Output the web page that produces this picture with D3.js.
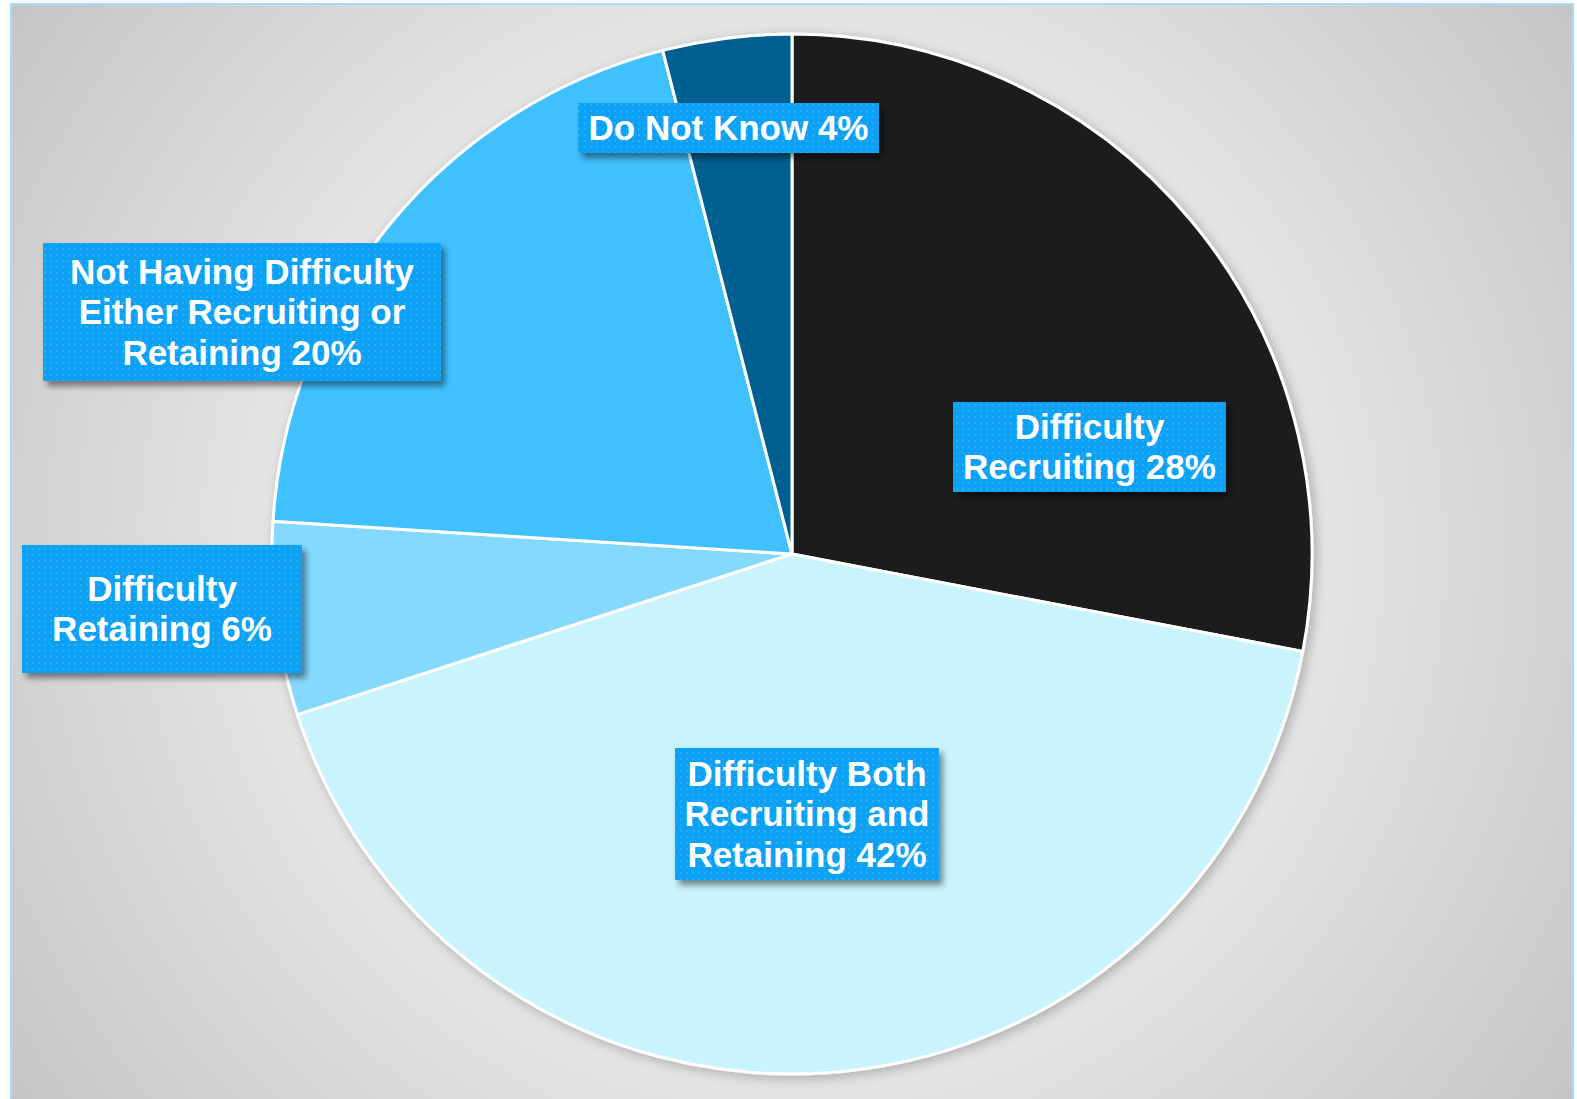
<html>
<head>
<script src="https://d3js.org/d3.v7.min.js"></script>
<style>
	body {margin: 0; background: #fff;}
	svg {display: block;}
</style>
</head>
<body>
<div id="chart"></div>
<script>
// slice data, clockwise from 12 o'clock
var categories = ["Difficulty Recruiting", "Difficulty Both Recruiting and Retaining", "Difficulty Retaining",
	"Not Having Difficulty Either Recruiting or Retaining", "Do Not Know"];
var values = [28, 42, 6, 20, 4];
var labelLines = [
	["Difficulty", "Recruiting 28%"],
	["Difficulty Both", "Recruiting and", "Retaining 42%"],
	["Difficulty", "Retaining 6%"],
	["Not Having Difficulty", "Either Recruiting or", "Retaining 20%"],
	["Do Not Know 4%"]
];
var colors = ["#1e1e1e", "#c9f3fd", "#85d9fe", "#41c1fe", "#035e91"];

var width = 1577, height = 1099;
var cx = 792, cy = 554, radius = 520;

// label boxes (manually placed, like the original)
var boxes = [
	{x: 953, y: 402, w: 273, h: 90},
	{x: 675, y: 748, w: 264, h: 132},
	{x: 22, y: 545, w: 280, h: 128},
	{x: 43, y: 243, w: 398, h: 138},
	{x: 578, y: 103, w: 301, h: 50}
];

var svg = d3.select("#chart").append("svg")
	.attr("width", width)
	.attr("height", height);

var defs = svg.append("defs");

var bg = defs.append("radialGradient")
	.attr("id", "bg")
	.attr("gradientUnits", "userSpaceOnUse")
	.attr("cx", cx).attr("cy", cy).attr("r", 1000);
bg.append("stop").attr("offset", "0").attr("stop-color", "#f2f2f2");
bg.append("stop").attr("offset", "0.5").attr("stop-color", "#e6e6e6");
bg.append("stop").attr("offset", "1").attr("stop-color", "#c2c2c2");

var dots = defs.append("pattern")
	.attr("id", "dots")
	.attr("patternUnits", "userSpaceOnUse")
	.attr("width", 6).attr("height", 6);
dots.append("rect").attr("width", 6).attr("height", 6).attr("fill", "#0ba1f6");
dots.append("rect").attr("x", 2).attr("y", 2).attr("width", 2).attr("height", 2).attr("fill", "#2aaef8");

var shadow = defs.append("filter")
	.attr("id", "shadow")
	.attr("x", "-10%").attr("y", "-10%").attr("width", "130%").attr("height", "140%");
shadow.append("feDropShadow")
	.attr("dx", 4).attr("dy", 5).attr("stdDeviation", 3)
	.attr("flood-color", "#000").attr("flood-opacity", 0.45);

var pieShadow = defs.append("filter")
	.attr("id", "pieShadow")
	.attr("x", "-10%").attr("y", "-10%").attr("width", "120%").attr("height", "120%");
pieShadow.append("feDropShadow")
	.attr("dx", 3).attr("dy", 3).attr("stdDeviation", 6)
	.attr("flood-color", "#000").attr("flood-opacity", 0.25);

// background and frame
svg.append("rect")
	.attr("x", 11).attr("y", 4)
	.attr("width", 1562).attr("height", 1100)
	.attr("fill", "url(#bg)")
	.attr("stroke", "#a6dbf9")
	.attr("stroke-width", 2);

var pie = d3.pie().sort(null)(values);
var arc = d3.arc().innerRadius(0).outerRadius(radius);

var g = svg.append("g")
	.attr("transform", "translate(" + cx + "," + cy + ")")
	.attr("filter", "url(#pieShadow)");

g.selectAll("path")
	.data(pie)
	.enter()
	.append("path")
	.attr("d", arc)
	.attr("fill", function(d, i) { return colors[i]; })
	.attr("stroke", "#fff")
	.attr("stroke-width", 3)
	.attr("stroke-linejoin", "round");

// labels
var labels = svg.selectAll(".label")
	.data(boxes)
	.enter()
	.append("g")
	.attr("class", "label");

labels.append("rect")
	.attr("x", function(d) { return d.x; })
	.attr("y", function(d) { return d.y; })
	.attr("width", function(d) { return d.w; })
	.attr("height", function(d) { return d.h; })
	.attr("fill", "url(#dots)")
	.attr("filter", "url(#shadow)");

labels.each(function(d, i) {
	var lines = labelLines[i];
	var lh = 40.5;
	var t = d3.select(this).append("text")
		.attr("text-anchor", "middle")
		.style("font-family", "'Liberation Sans', Arial, sans-serif")
		.style("font-weight", "bold")
		.style("font-size", "35px")
		.attr("fill", "#fff");
	lines.forEach(function(line, k) {
		t.append("tspan")
			.attr("x", d.x + d.w / 2)
			.attr("y", d.y + d.h / 2 + (k - (lines.length - 1) / 2) * lh + 12)
			.text(line);
	});
});
</script>
</body>
</html>
